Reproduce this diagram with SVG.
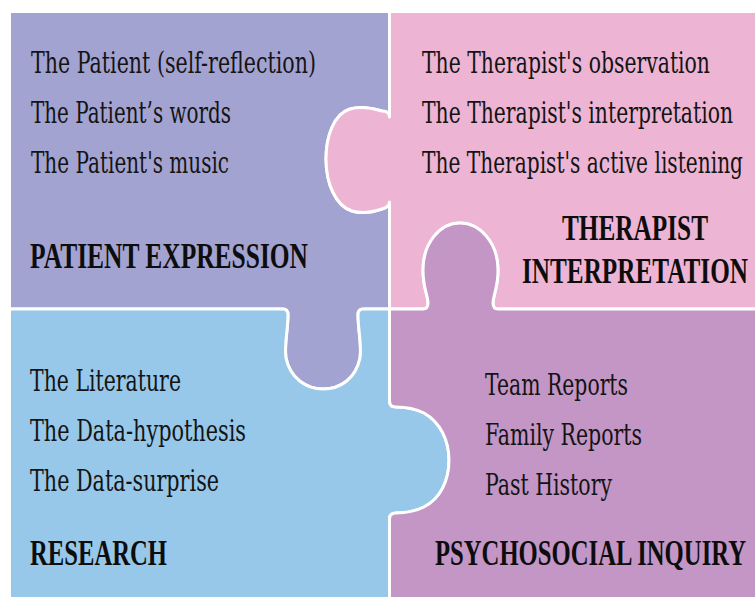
<svg xmlns="http://www.w3.org/2000/svg" width="755" height="597" viewBox="0 0 755 597">
  <style>
    .piece { stroke: #ffffff; stroke-width: 3; stroke-linejoin: round; }
    .item { font-family: "DejaVu Serif", "Liberation Serif", serif; font-size: 29px; fill: #141414; }
    .title { font-family: "Liberation Serif", "DejaVu Serif", serif; font-size: 35px; font-weight: bold; fill: #0d0d0d; }
  </style>
  <rect width="755" height="597" fill="#ffffff"/>

  <!-- Top-left piece: patient expression (pink tab cut in on the right, own tab down) -->
  <g id="patient-expression">
    <path class="piece" fill="#a3a3d1" d="M9.5,11.5 L389.5,11.5 L389.5,117 Q389.5,111 382,111 C372,108 360,106 350,109 C334,114 326,136 326,159 C326,184 336,206 352,211 C362,214 373,212 382,209 Q389.5,207 389.5,202 L389.5,309 L363,309 Q358,309 358,315 C358,330 362,345 360,358 C356,378 341,389 323,389 C306,389 290,378 286,358 C284,345 288,330 288,315 Q288,309 283,309 L9.5,309 Z"/>
    <text class="item" transform="translate(31,73) scale(0.7,1)" textLength="407.1" lengthAdjust="spacingAndGlyphs">The Patient (self-reflection)</text>
    <text class="item" transform="translate(31,123) scale(0.7,1)" textLength="285.7" lengthAdjust="spacingAndGlyphs">The Patient’s words</text>
    <text class="item" transform="translate(31,173) scale(0.7,1)" textLength="282.9" lengthAdjust="spacingAndGlyphs">The Patient's music</text>
    <text class="title" transform="translate(30,268) scale(0.62,1)" textLength="448.4" lengthAdjust="spacingAndGlyphs">PATIENT EXPRESSION</text>
  </g>

  <!-- Top-right piece: therapist interpretation (own tab left, cut from below) -->
  <g id="therapist-interpretation">
    <path class="piece" fill="#edb5d3" d="M389.5,11.5 L760,11.5 L760,309 L498,309 Q493,309 493,303 C493,296 498,288 498,270 C498,243 480,223 460,223 C440,223 423,243 423,270 C423,288 428,296 428,303 Q428,309 423,309 L389.5,309 L389.5,202 Q389.5,207 382,209 C373,212 362,214 352,211 C336,206 326,184 326,159 C326,136 334,114 350,109 C360,106 372,108 382,111 Q389.5,111 389.5,117 Z"/>
    <text class="item" transform="translate(422,73) scale(0.7,1)" textLength="411.4" lengthAdjust="spacingAndGlyphs">The Therapist's observation</text>
    <text class="item" transform="translate(422,123) scale(0.7,1)" textLength="444.3" lengthAdjust="spacingAndGlyphs">The Therapist's interpretation</text>
    <text class="item" transform="translate(422,173) scale(0.7,1)" textLength="458.6" lengthAdjust="spacingAndGlyphs">The Therapist's active listening</text>
    <text class="title" transform="translate(562,240) scale(0.62,1)" textLength="235.5" lengthAdjust="spacingAndGlyphs">THERAPIST</text>
    <text class="title" transform="translate(522,283) scale(0.62,1)" textLength="364.5" lengthAdjust="spacingAndGlyphs">INTERPRETATION</text>
  </g>

  <!-- Bottom-left piece: research (cut from above, own tab right) -->
  <g id="research">
    <path class="piece" fill="#97c8ea" d="M9.5,309 L283,309 Q288,309 288,315 C288,330 284,345 286,358 C290,378 306,389 323,389 C341,389 356,378 360,358 C362,345 358,330 358,315 Q358,309 363,309 L389.5,309 L389.5,401 Q389.5,407 396,407 C404,407 414,408 424,413 C440,422 449,440 449,460 C449,481 440,499 424,507 C414,512 404,513 396,513 Q389.5,513 389.5,519 L389.5,600 L9.5,600 Z"/>
    <text class="item" transform="translate(30,391) scale(0.7,1)" textLength="215.7" lengthAdjust="spacingAndGlyphs">The Literature</text>
    <text class="item" transform="translate(30,441) scale(0.7,1)" textLength="308.6" lengthAdjust="spacingAndGlyphs">The Data-hypothesis</text>
    <text class="item" transform="translate(30,491) scale(0.7,1)" textLength="270" lengthAdjust="spacingAndGlyphs">The Data-surprise</text>
    <text class="title" transform="translate(30,565) scale(0.62,1)" textLength="221" lengthAdjust="spacingAndGlyphs">RESEARCH</text>
  </g>

  <!-- Bottom-right piece: psychosocial inquiry (own tab up, cut from the left) -->
  <g id="psychosocial-inquiry">
    <path class="piece" fill="#c396c5" d="M389.5,309 L423,309 Q428,309 428,303 C428,296 423,288 423,270 C423,243 440,223 460,223 C480,223 498,243 498,270 C498,288 493,296 493,303 Q493,309 498,309 L760,309 L760,600 L389.5,600 L389.5,519 Q389.5,513 396,513 C404,513 414,512 424,507 C440,499 449,481 449,460 C449,440 440,422 424,413 C414,408 404,407 396,407 Q389.5,407 389.5,401 Z"/>
    <text class="item" transform="translate(485,395) scale(0.7,1)" textLength="204.3" lengthAdjust="spacingAndGlyphs">Team Reports</text>
    <text class="item" transform="translate(485,445) scale(0.7,1)" textLength="224.3" lengthAdjust="spacingAndGlyphs">Family Reports</text>
    <text class="item" transform="translate(485,495) scale(0.7,1)" textLength="181.4" lengthAdjust="spacingAndGlyphs">Past History</text>
    <text class="title" transform="translate(435,565) scale(0.62,1)" textLength="501.6" lengthAdjust="spacingAndGlyphs">PSYCHOSOCIAL INQUIRY</text>
  </g>

  <!-- no connectors: pieces interlock directly -->
  <g id="connectors"/>
</svg>
